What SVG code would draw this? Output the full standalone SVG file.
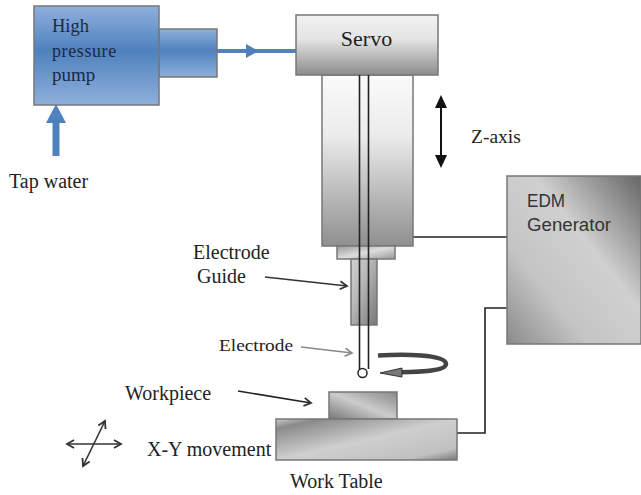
<svg xmlns="http://www.w3.org/2000/svg" width="641" height="495" viewBox="0 0 641 495">
<style>
text{font-family:"Liberation Serif",serif;fill:#222}
.sans{font-family:"Liberation Sans",sans-serif;font-size:18px;fill:#333}
.box{stroke:#777;stroke-width:1.5}
.ln{fill:none;stroke:#222;stroke-width:1.6}
</style>
<defs>
<linearGradient id="blue" x1="0" y1="0" x2="0" y2="1"><stop offset="0" stop-color="#8fb0dc"/><stop offset=".45" stop-color="#4f81bd"/><stop offset="1" stop-color="#8fb0dc"/></linearGradient>
<linearGradient id="servo" x1="0" y1="0" x2="0" y2="1"><stop offset="0" stop-color="#f2f2f2"/><stop offset=".4" stop-color="#e4e4e4"/><stop offset="1" stop-color="#8c8c8c"/></linearGradient>
<linearGradient id="col" x1="0" y1="0" x2="0" y2="1"><stop offset="0" stop-color="#fafafa"/><stop offset=".35" stop-color="#ececec"/><stop offset="1" stop-color="#8f8f8f"/></linearGradient>
<linearGradient id="flange" x1="0" y1="0" x2="1" y2="1"><stop offset="0" stop-color="#999"/><stop offset=".5" stop-color="#ddd"/><stop offset="1" stop-color="#999"/></linearGradient>
<linearGradient id="guide" x1="0" y1="0" x2="1" y2="1"><stop offset="0" stop-color="#d0d0d0"/><stop offset=".4" stop-color="#b8b8b8"/><stop offset="1" stop-color="#777"/></linearGradient>
<linearGradient id="gen" x1="1" y1="0" x2="0" y2="1"><stop offset="0" stop-color="#666"/><stop offset=".4" stop-color="#d0d0d0"/><stop offset=".7" stop-color="#c4c4c4"/><stop offset="1" stop-color="#8a8a8a"/></linearGradient>
<linearGradient id="tbl" x1="0" y1="0" x2="1" y2="1"><stop offset="0" stop-color="#ccc"/><stop offset=".12" stop-color="#8a8a8a"/><stop offset=".5" stop-color="#cfcfcf"/><stop offset=".85" stop-color="#c0c0c0"/><stop offset="1" stop-color="#777"/></linearGradient>
<linearGradient id="wp" x1="0" y1="1" x2="1" y2="0"><stop offset="0" stop-color="#777"/><stop offset=".5" stop-color="#ccc"/><stop offset="1" stop-color="#888"/></linearGradient>
<marker id="ah" markerWidth="10" markerHeight="10" refX="8" refY="5" orient="auto-start-reverse" markerUnits="userSpaceOnUse"><path d="M1 1L8 5L1 9" fill="none" stroke="#333" stroke-width="1.800"/></marker>
<marker id="ag" markerWidth="10" markerHeight="10" refX="8" refY="5" orient="auto" markerUnits="userSpaceOnUse"><path d="M1 1L8 5L1 9" fill="none" stroke="#888" stroke-width="1.600"/></marker>
</defs>

<g id="connectors">
<path d="M217 51H296" fill="none" stroke="#4f81bd" stroke-width="4"/>
<path d="M246 44L259 51L246 58Z" fill="#4f81bd"/>
<path d="M56 156V118" fill="none" stroke="#4f81bd" stroke-width="7"/>
<path d="M46 123L56 104L66 123Z" fill="#4f81bd"/>
<path class="ln" d="M413 237H508"/>
<path class="ln" d="M457 433H485V308H508"/>
<path d="M441 108V159" fill="none" stroke="#111" stroke-width="2"/>
<path d="M435 108L441 95L447 108Z M435 155L441 168L447 155Z" fill="#111"/>
<path d="M265 277L347 286" fill="none" stroke="#333" stroke-width="1.600" marker-end="url(#ah)"/>
<path d="M301 347L352 353" fill="none" stroke="#888" stroke-width="1.400" marker-end="url(#ag)"/>
<path d="M238 391L311 403" fill="none" stroke="#222" stroke-width="1.600" marker-end="url(#ah)"/>
<path d="M67 444H121" fill="none" stroke="#333" stroke-width="1.600" marker-start="url(#ah)" marker-end="url(#ah)"/>
<path d="M83 466L105 421" fill="none" stroke="#333" stroke-width="1.600" marker-start="url(#ah)" marker-end="url(#ah)"/>
<path d="M378 355.500C402 354 446 354 446 364C446 372 412 372 395 372.500" fill="none" stroke="#444" stroke-width="4.500"/>
<path d="M380 373L402 368L402 377Z" fill="#777" stroke="#333"/>
</g>

<g id="pump-outlet"><rect class="box" x="159" y="29" width="58" height="48" fill="url(#blue)"/></g>
<g id="pump"><rect class="box" x="34" y="6" width="125" height="99" fill="url(#blue)"/>
<text x="52" y="32" font-size="18.500" style="fill:#1a2a44">High</text>
<text x="52" y="57" font-size="18" letter-spacing=".6" style="fill:#1a2a44">pressure</text>
<text x="52" y="81" font-size="19" style="fill:#1a2a44">pump</text></g>
<g id="tap-water"><text x="9" y="188" font-size="20">Tap water</text></g>

<g id="column"><rect class="box" x="322" y="75" width="91" height="171" fill="url(#col)"/></g>
<g id="servo"><rect class="box" x="296" y="15" width="142" height="60" fill="url(#servo)"/>
<text x="366.500" y="46" font-size="22" text-anchor="middle">Servo</text></g>
<g id="flange"><rect class="box" x="337" y="246" width="58" height="13" fill="url(#flange)"/></g>
<g id="guide"><rect class="box" x="351" y="259" width="26" height="66" fill="url(#guide)"/></g>
<g id="electrode"><path class="ln" d="M359.500 75V369M368.500 75V369"/><circle cx="362.500" cy="373" r="4.500" fill="#fff" stroke="#222" stroke-width="1.500"/></g>

<g id="z-axis-label"><text x="471" y="143" font-size="19.500">Z-axis</text></g>
<g id="edm-generator"><rect class="box" x="507" y="176" width="134" height="168" fill="url(#gen)"/>
<text class="sans" x="527" y="207" textLength="38" lengthAdjust="spacingAndGlyphs">EDM</text>
<text class="sans" x="527" y="231" textLength="84" lengthAdjust="spacingAndGlyphs">Generator</text></g>

<g id="electrode-guide-label"><text x="193" y="259" font-size="20">Electrode</text><text x="197" y="283" font-size="20">Guide</text></g>
<g id="electrode-label"><text x="219" y="350.500" font-size="17" textLength="74" lengthAdjust="spacingAndGlyphs">Electrode</text></g>
<g id="workpiece-label"><text x="125" y="400" font-size="20">Workpiece</text></g>
<g id="workpiece"><rect class="box" x="329" y="392" width="68" height="27" fill="url(#wp)"/></g>
<g id="work-table"><rect class="box" x="276" y="419" width="181" height="41" fill="url(#tbl)"/></g>
<g id="xy-label"><text x="147" y="455.500" font-size="20">X-Y movement</text></g>
<g id="work-table-label"><text x="290" y="488" font-size="20">Work Table</text></g>
</svg>
